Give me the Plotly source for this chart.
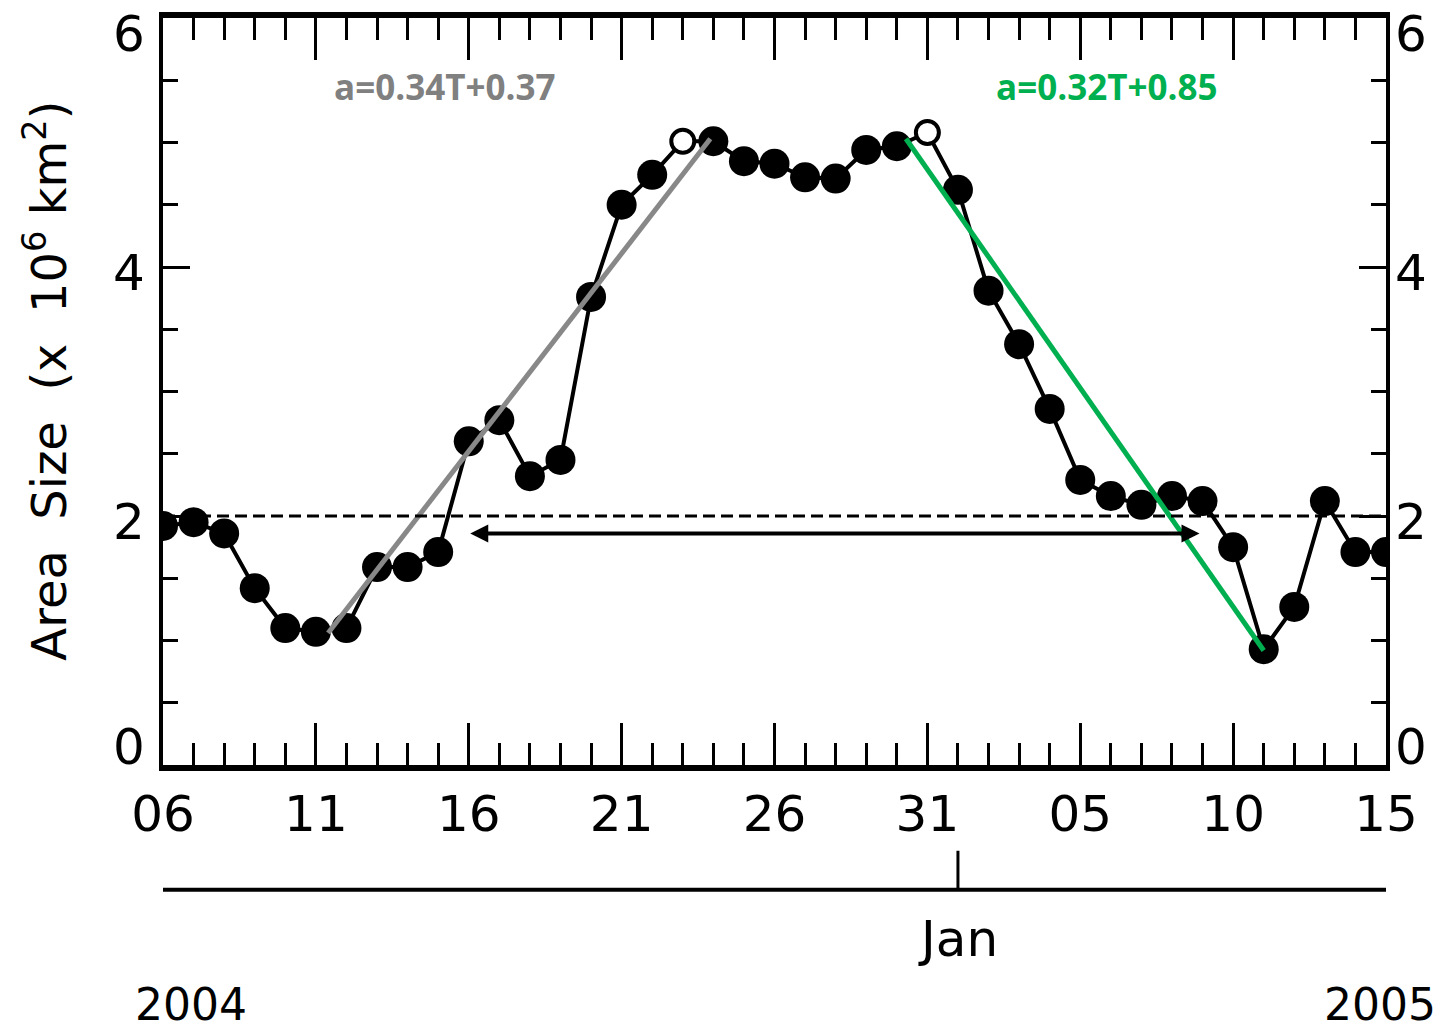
import plotly.graph_objects as go

# Days counted from 06 Dec 2004 (index 0) to 15 Jan 2005 (index 40)
day_index = list(range(41))
area_size = [1.92, 1.95, 1.86, 1.42, 1.10, 1.07, 1.10, 1.59, 1.59, 1.71,
             2.60, 2.77, 2.32, 2.45, 3.76, 4.50, 4.74, 5.01, 5.01, 4.85,
             4.83, 4.72, 4.71, 4.94, 4.97, 5.08, 4.62, 3.81, 3.38, 2.86,
             2.29, 2.16, 2.09, 2.16, 2.12, 1.75, 0.93, 1.27, 2.12, 1.71, 1.71]
open_idx = [17, 25]

x_tick_vals = [0, 5, 10, 15, 20, 25, 30, 35, 40]
x_tick_text = ["06", "11", "16", "21", "26", "31", "05", "10", "15"]
y_tick_vals = [0, 2, 4, 6]
y_tick_text = ["0", "2", "4", "6"]

# Linear fits (growth and decay)
gray_fit_x = [5.4, 17.9]
gray_fit_y = [1.06, 5.03]
green_fit_x = [24.3, 36.0]
green_fit_y = [5.03, 0.92]
gray_label = "a=0.34T+0.37"
green_label = "a=0.32T+0.85"

threshold = 2.0
arrow_x = [10.0, 33.9]
arrow_y = 1.86

jan_day = 26
month_label = "Jan"
year_labels = ["2004", "2005"]

filled_x = [d for d in day_index if d not in open_idx]
filled_y = [area_size[d] for d in filled_x]
open_x = [day_index[i] for i in open_idx]
open_y = [area_size[i] for i in open_idx]

FONT = "DejaVu Sans, sans-serif"
TFONT = dict(family=FONT, size=50, color="black")

fig = go.Figure()
fig.add_trace(go.Scatter(x=day_index, y=area_size, mode="lines",
                         line=dict(color="black", width=4),
                         showlegend=False, hoverinfo="skip"))
fig.add_trace(go.Scatter(x=filled_x, y=filled_y, mode="markers",
                         marker=dict(color="black", size=30, line=dict(width=0)),
                         showlegend=False))
fig.add_trace(go.Scatter(x=open_x, y=open_y, mode="markers",
                         marker=dict(color="white", size=23,
                                     line=dict(color="black", width=4)),
                         showlegend=False))
fig.add_trace(go.Scatter(x=gray_fit_x, y=gray_fit_y, mode="lines",
                         line=dict(color="#888888", width=5),
                         showlegend=False))
fig.add_trace(go.Scatter(x=green_fit_x, y=green_fit_y, mode="lines",
                         line=dict(color="#00B050", width=5),
                         showlegend=False))
# dummy trace for right axis
fig.add_trace(go.Scatter(x=day_index, y=area_size, yaxis="y2", mode="markers",
                         marker=dict(opacity=0), showlegend=False,
                         hoverinfo="skip"))

# dashed threshold line
fig.add_shape(type="line", xref="x", yref="y", x0=day_index[0], x1=day_index[-1],
              y0=threshold, y1=threshold,
              line=dict(color="black", width=3, dash="12px,6px"))

# double-headed arrow
fig.add_annotation(x=arrow_x[1], y=arrow_y, ax=arrow_x[0], ay=arrow_y,
                   xref="x", yref="y", axref="x", ayref="y", text="",
                   showarrow=True, arrowhead=2, startarrowhead=2,
                   arrowside="end+start", arrowwidth=4, arrowsize=0.9,
                   startarrowsize=0.9, arrowcolor="black")

# fit labels
fig.add_annotation(x=9.2, y=5.45, xref="x", yref="y", text="<b>" + gray_label + "</b>",
                   showarrow=False, font=dict(family="Open Sans", size=35, color="#808080"))
fig.add_annotation(x=30.87, y=5.45, xref="x", yref="y", text="<b>" + green_label + "</b>",
                   showarrow=False, font=dict(family="Open Sans", size=35, color="#00B050"))

# y tick labels on both sides (kept inside the frame like the original)
for v, t in zip(y_tick_vals, y_tick_text):
    if v == y_tick_vals[0]:
        ya, ys = "bottom", -13
    elif v == y_tick_vals[-1]:
        ya, ys = "top", 15
    else:
        ya, ys = "middle", -6
    fig.add_annotation(x=-0.013, y=v, xref="paper", yref="y", text=t,
                       xanchor="right", yanchor=ya, yshift=ys,
                       showarrow=False, font=TFONT)
    fig.add_annotation(x=1.006, y=v, xref="paper", yref="y", text=t,
                       xanchor="left", yanchor=ya, yshift=ys,
                       showarrow=False, font=TFONT)

# secondary (month) axis below
fig.add_shape(type="line", xref="x", yref="paper", x0=day_index[0], x1=day_index[-1],
              y0=-0.1669, y1=-0.1669, line=dict(color="black", width=4))
fig.add_shape(type="line", xref="x", yref="paper", x0=jan_day, x1=jan_day,
              y0=-0.1669, y1=-0.1148, line=dict(color="black", width=3))
fig.add_annotation(x=jan_day, y=-0.2336, xref="x", yref="paper", text=month_label,
                   showarrow=False, font=TFONT, xanchor="center", yanchor="middle")
fig.add_annotation(x=-0.0245, y=-0.3578, xref="paper", yref="paper", text=year_labels[0],
                   showarrow=False, font=dict(family=FONT, size=44, color="black"),
                   xanchor="left", yanchor="bottom")
fig.add_annotation(x=1.0425, y=-0.3578, xref="paper", yref="paper", text=year_labels[1],
                   showarrow=False, font=dict(family=FONT, size=44, color="black"),
                   xanchor="right", yanchor="bottom")

# y-axis title
fig.add_annotation(x=-0.096, y=0.514, xref="paper", yref="paper",
                   text="Area\u00a0 Size\u00a0 (x\u00a0 10<sup>6</sup> km<sup>2</sup>)",
                   textangle=-90, showarrow=False, xanchor="center", yanchor="middle",
                   font=dict(family=FONT, size=48, color="black"))

fig.update_layout(
    width=1440, height=1033,
    margin=dict(l=163, r=54, t=16, b=268),
    paper_bgcolor="white", plot_bgcolor="white",
    xaxis=dict(range=[0, 40], tickvals=x_tick_vals, ticktext=x_tick_text,
               ticks="inside", ticklen=42, tickwidth=3, tickcolor="black",
               showline=True, linewidth=6, linecolor="black", mirror="ticks",
               showgrid=False, zeroline=False,
               tickfont=TFONT, ticklabelstandoff=0,
               minor=dict(dtick=1, ticks="inside", ticklen=22, tickwidth=3,
                          tickcolor="black", showgrid=False)),
    yaxis=dict(range=[0, 6], tickvals=y_tick_vals, ticks="inside",
               ticklen=27, tickwidth=3, tickcolor="black",
               showline=True, linewidth=4, linecolor="black",
               showgrid=False, zeroline=False, showticklabels=False,
               minor=dict(dtick=0.5, ticks="inside", ticklen=15, tickwidth=3,
                          tickcolor="black", showgrid=False)),
    yaxis2=dict(range=[0, 6], tickvals=y_tick_vals, overlaying="y", side="right",
                ticks="inside", ticklen=27, tickwidth=3, tickcolor="black",
                showline=True, linewidth=4, linecolor="black",
                showgrid=False, zeroline=False, showticklabels=False,
                minor=dict(dtick=0.5, ticks="inside", ticklen=15, tickwidth=3,
                           tickcolor="black", showgrid=False)),
    showlegend=False,
)

fig.write_html("out.html")
